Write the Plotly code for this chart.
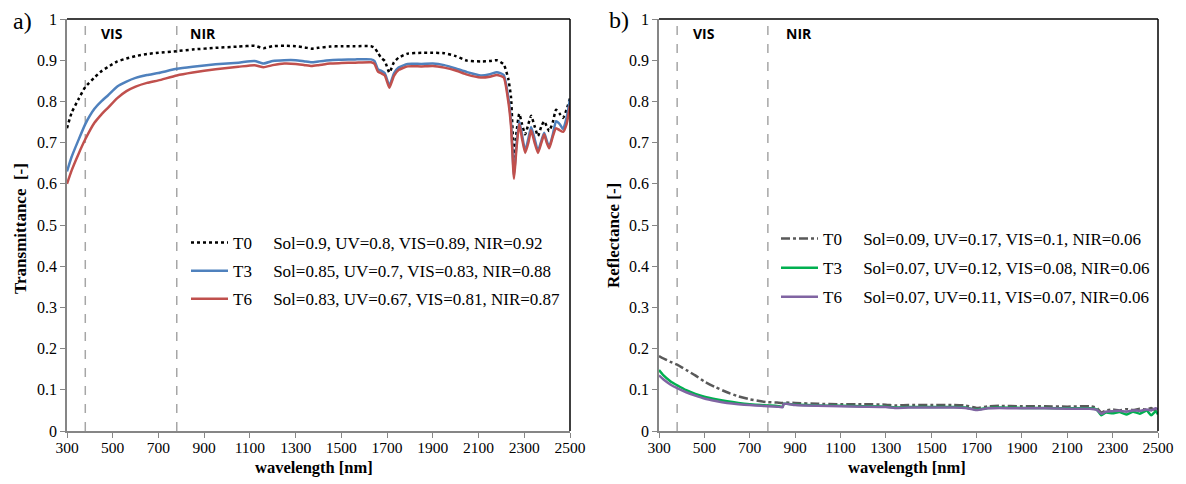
import plotly.graph_objects as go

# ---------------- data: panel a (transmittance) ----------------
wl_a = [300, 320, 350, 380, 420, 450, 480, 520, 560, 600, 650, 700, 780, 850, 950, 1050,
        1120, 1160, 1200, 1250, 1300, 1340, 1370, 1400, 1450, 1500, 1560, 1630, 1645, 1660,
        1675, 1690, 1710, 1730, 1750, 1790, 1850, 1900, 1950, 2000, 2050, 2110, 2150, 2180,
        2210, 2230, 2242, 2255, 2265, 2278, 2290, 2304, 2318, 2330, 2345, 2360, 2375, 2387,
        2398, 2409, 2425, 2439, 2455, 2470, 2485, 2500]
t0_a = [0.735, 0.772, 0.805, 0.835, 0.858, 0.873, 0.884, 0.897, 0.904, 0.910, 0.915, 0.918,
        0.922, 0.926, 0.930, 0.933, 0.935, 0.929, 0.934, 0.935, 0.934, 0.931, 0.928, 0.930,
        0.933, 0.934, 0.934, 0.934, 0.930, 0.918, 0.905, 0.898, 0.870, 0.895, 0.906, 0.916,
        0.918, 0.918, 0.917, 0.910, 0.899, 0.897, 0.898, 0.900, 0.890, 0.855, 0.810, 0.665,
        0.720, 0.770, 0.745, 0.720, 0.745, 0.765, 0.740, 0.716, 0.740, 0.752, 0.740, 0.728,
        0.750, 0.780, 0.770, 0.760, 0.780, 0.808]
t3_a = [0.630, 0.665, 0.706, 0.745, 0.782, 0.800, 0.815, 0.836, 0.848, 0.857, 0.864, 0.869,
        0.879, 0.884, 0.890, 0.894, 0.898, 0.892, 0.898, 0.900, 0.900, 0.897, 0.895, 0.897,
        0.900, 0.901, 0.902, 0.902, 0.898, 0.878, 0.874, 0.868, 0.838, 0.868, 0.882, 0.891,
        0.891, 0.892, 0.888, 0.880, 0.871, 0.863, 0.866, 0.871, 0.864, 0.810, 0.750, 0.620,
        0.690, 0.752, 0.720, 0.680, 0.710, 0.738, 0.710, 0.680, 0.705, 0.724, 0.705, 0.690,
        0.720, 0.752, 0.745, 0.733, 0.760, 0.805]
t6_a = [0.600, 0.632, 0.672, 0.708, 0.748, 0.768, 0.785, 0.808, 0.825, 0.836, 0.845, 0.851,
        0.863, 0.870, 0.878, 0.884, 0.888, 0.883, 0.888, 0.892, 0.891, 0.888, 0.886, 0.888,
        0.892, 0.893, 0.894, 0.895, 0.891, 0.872, 0.868, 0.863, 0.833, 0.862, 0.876, 0.885,
        0.885, 0.886, 0.882, 0.875, 0.865, 0.858, 0.860, 0.864, 0.858, 0.800, 0.740, 0.612,
        0.680, 0.745, 0.710, 0.675, 0.700, 0.730, 0.700, 0.675, 0.700, 0.720, 0.700, 0.686,
        0.715, 0.735, 0.730, 0.726, 0.745, 0.790]

# ---------------- data: panel b (reflectance) ----------------
wl_b = [300, 320, 350, 380, 420, 460, 500, 550, 600, 650, 700, 750, 780, 820, 845, 850, 900,
        1000, 1100, 1200, 1300, 1340, 1400, 1500, 1600, 1650, 1700, 1750, 1800, 1900, 2000,
        2100, 2200, 2230, 2250, 2270, 2300, 2330, 2360, 2390, 2420, 2450, 2470, 2490, 2500]
t0_b = [0.182, 0.176, 0.168, 0.161, 0.148, 0.135, 0.120, 0.106, 0.094, 0.084, 0.077, 0.072,
        0.070, 0.069, 0.068, 0.069, 0.068, 0.066, 0.065, 0.065, 0.064, 0.062, 0.063, 0.063,
        0.063, 0.062, 0.056, 0.060, 0.061, 0.060, 0.060, 0.059, 0.060, 0.056, 0.045, 0.050,
        0.052, 0.050, 0.053, 0.051, 0.054, 0.052, 0.056, 0.050, 0.055]
t3_b = [0.148, 0.135, 0.121, 0.111, 0.099, 0.090, 0.083, 0.077, 0.072, 0.068, 0.065, 0.063,
        0.062, 0.061, 0.059, 0.066, 0.064, 0.062, 0.061, 0.060, 0.059, 0.057, 0.058, 0.058,
        0.058, 0.057, 0.052, 0.056, 0.057, 0.056, 0.056, 0.055, 0.055, 0.052, 0.038, 0.045,
        0.043, 0.046, 0.040, 0.047, 0.042, 0.050, 0.038, 0.048, 0.040]
t6_b = [0.135, 0.125, 0.113, 0.104, 0.094, 0.086, 0.079, 0.073, 0.068, 0.065, 0.063, 0.061,
        0.060, 0.059, 0.058, 0.066, 0.063, 0.061, 0.060, 0.059, 0.058, 0.056, 0.057, 0.057,
        0.057, 0.056, 0.051, 0.055, 0.056, 0.055, 0.055, 0.054, 0.054, 0.051, 0.042, 0.047,
        0.048, 0.049, 0.047, 0.050, 0.049, 0.052, 0.050, 0.055, 0.052]

legend_a = ["T0", "T3", "T6"]
stats_a = ["Sol=0.9, UV=0.8, VIS=0.89, NIR=0.92",
           "Sol=0.85, UV=0.7, VIS=0.83, NIR=0.88",
           "Sol=0.83, UV=0.67, VIS=0.81, NIR=0.87"]
stats_b = ["Sol=0.09, UV=0.17, VIS=0.1, NIR=0.06",
           "Sol=0.07, UV=0.12, VIS=0.08, NIR=0.06",
           "Sol=0.07, UV=0.11, VIS=0.07, NIR=0.06"]

x_ticks = list(range(300, 2501, 200))
y_ticks = [0, 0.1, 0.2, 0.3, 0.4, 0.5, 0.6, 0.7, 0.8, 0.9, 1]
y_ticktext = ["0", "0.1", "0.2", "0.3", "0.4", "0.5", "0.6", "0.7", "0.8", "0.9", "1"]
band_edges = [380, 780]

SERIF = "Liberation Serif"
SP = "&nbsp;" * 5

fig = go.Figure()

styles_a = [dict(color="black", width=2.5, dash="dot"),
            dict(color="#4F81BD", width=2.5),
            dict(color="#C0504D", width=2.5)]
for name, ys, st, stat in zip(legend_a, [t0_a, t3_a, t6_a], styles_a, stats_a):
    fig.add_trace(go.Scatter(x=wl_a, y=ys, mode="lines", line=dict(shape="spline", smoothing=0.5, **st),
                             name=name + SP + stat, legend="legend", legendgroup="a" + name,
                             xaxis="x", yaxis="y"))

styles_b = [dict(color="#595959", width=2.5, dash="dashdot"),
            dict(color="#00B050", width=2.5),
            dict(color="#8064A2", width=2.5)]
for name, ys, st, stat in zip(legend_a, [t0_b, t3_b, t6_b], styles_b, stats_b):
    fig.add_trace(go.Scatter(x=wl_b, y=ys, mode="lines", line=dict(shape="spline", smoothing=0.5, **st),
                             name=name + SP + stat, legend="legend2", legendgroup="b" + name,
                             xaxis="x2", yaxis="y2"))

W, H = 1186, 484
OFF = 7  # page offset of the plot inside the browser window
def px(v): return (v - OFF) / W
def py(v): return 1 - (v - OFF) / H

xdom_a = [px(66), px(569)]
xdom_b = [px(658), px(1157)]
ydom = [py(430), py(18)]

axis_common = dict(showline=True, linecolor="#868686", linewidth=1.5, ticks="outside", ticklen=5,
                   tickcolor="#868686", showgrid=False, zeroline=False, automargin=False)
xfont = dict(family=SERIF, size=15.5, color="black")
yfont = dict(family=SERIF, size=16, color="black")
legfont = dict(family=SERIF, size=17, color="black")

fig.update_layout(
    width=W, height=H, margin=dict(l=0, r=0, t=0, b=0, autoexpand=False),
    paper_bgcolor="white", plot_bgcolor="white",
    xaxis=dict(domain=xdom_a, range=[300, 2500], tickvals=x_ticks, anchor="y", tickfont=xfont,
               ticklabelstandoff=-3, **axis_common),
    yaxis=dict(domain=ydom, range=[0, 1], tickvals=y_ticks, ticktext=y_ticktext, anchor="x", tickfont=yfont, **axis_common),
    xaxis2=dict(domain=xdom_b, range=[300, 2500], tickvals=x_ticks, anchor="y2", tickfont=xfont,
                ticklabelstandoff=-3, **axis_common),
    yaxis2=dict(domain=ydom, range=[0, 1], tickvals=y_ticks, ticktext=y_ticktext, anchor="x2", tickfont=yfont, **axis_common),
    legend=dict(x=px(185), y=py(224), xanchor="left", yanchor="top", bgcolor="rgba(0,0,0,0)",
                font=legfont, tracegroupgap=3, itemwidth=37),
    legend2=dict(x=px(775), y=py(220), xanchor="left", yanchor="top", bgcolor="rgba(0,0,0,0)",
                 font=legfont, tracegroupgap=4, itemwidth=37),
    showlegend=True,
)

shapes = []
for xa, ya in [("x", "y"), ("x2", "y2")]:
    for e in band_edges:
        shapes.append(dict(type="line", xref=xa, yref=ya, x0=e, x1=e, y0=0, y1=1,
                           line=dict(color="#A6A6A6", width=1.5, dash="dash"), layer="below"))
    shapes.append(dict(type="line", xref=xa + " domain", yref=ya + " domain", x0=0, x1=1, y0=1, y1=1,
                       line=dict(color="black", width=1.5)))
    shapes.append(dict(type="line", xref=xa + " domain", yref=ya + " domain", x0=1, x1=1, y0=0, y1=1,
                       line=dict(color="black", width=1.5)))
fig.update_layout(shapes=shapes)

ann = []
lab_font = dict(family="Open Sans", size=14, color="black")
for xa, ya, xv, xn in [("x", "y", 441, 828), ("x2", "y2", 441, 850)]:
    ann.append(dict(x=xv, y=0.966, xref=xa, yref=ya, text="<b>VIS</b>", showarrow=False,
                    xanchor="left", yanchor="middle", font=lab_font))
    ann.append(dict(x=xn, y=0.966, xref=xa, yref=ya, text="<b>NIR</b>", showarrow=False,
                    xanchor="left", yanchor="middle", font=lab_font))
ann.append(dict(x=px(10), y=py(20), xref="paper", yref="paper", text="a)", showarrow=False,
                xanchor="left", yanchor="middle", font=dict(family=SERIF, size=24, color="black")))
ann.append(dict(x=px(606), y=py(19), xref="paper", yref="paper", text="b)", showarrow=False,
                xanchor="left", yanchor="middle", font=dict(family=SERIF, size=24, color="black")))
title_font = dict(family=SERIF, size=16.5, color="black")
ytitle_font = dict(family=SERIF, size=17, color="black")
ann.append(dict(x=px(313), y=py(466), xref="paper", yref="paper", text="<b>wavelength [nm]</b>", showarrow=False,
                xanchor="center", yanchor="middle", font=title_font))
ann.append(dict(x=px(906), y=py(466), xref="paper", yref="paper", text="<b>wavelength [nm]</b>", showarrow=False,
                xanchor="center", yanchor="middle", font=title_font))
ann.append(dict(x=px(19), y=py(228), xref="paper", yref="paper", text="<b>Transmittance&nbsp;&nbsp;[-]</b>",
                showarrow=False, textangle=-90, xanchor="center", yanchor="middle", font=ytitle_font))
ann.append(dict(x=px(612), y=py(235), xref="paper", yref="paper", text="<b>Reflectance [-]</b>",
                showarrow=False, textangle=-90, xanchor="center", yanchor="middle", font=ytitle_font))
fig.update_layout(annotations=ann)

fig.write_html("out.html")
